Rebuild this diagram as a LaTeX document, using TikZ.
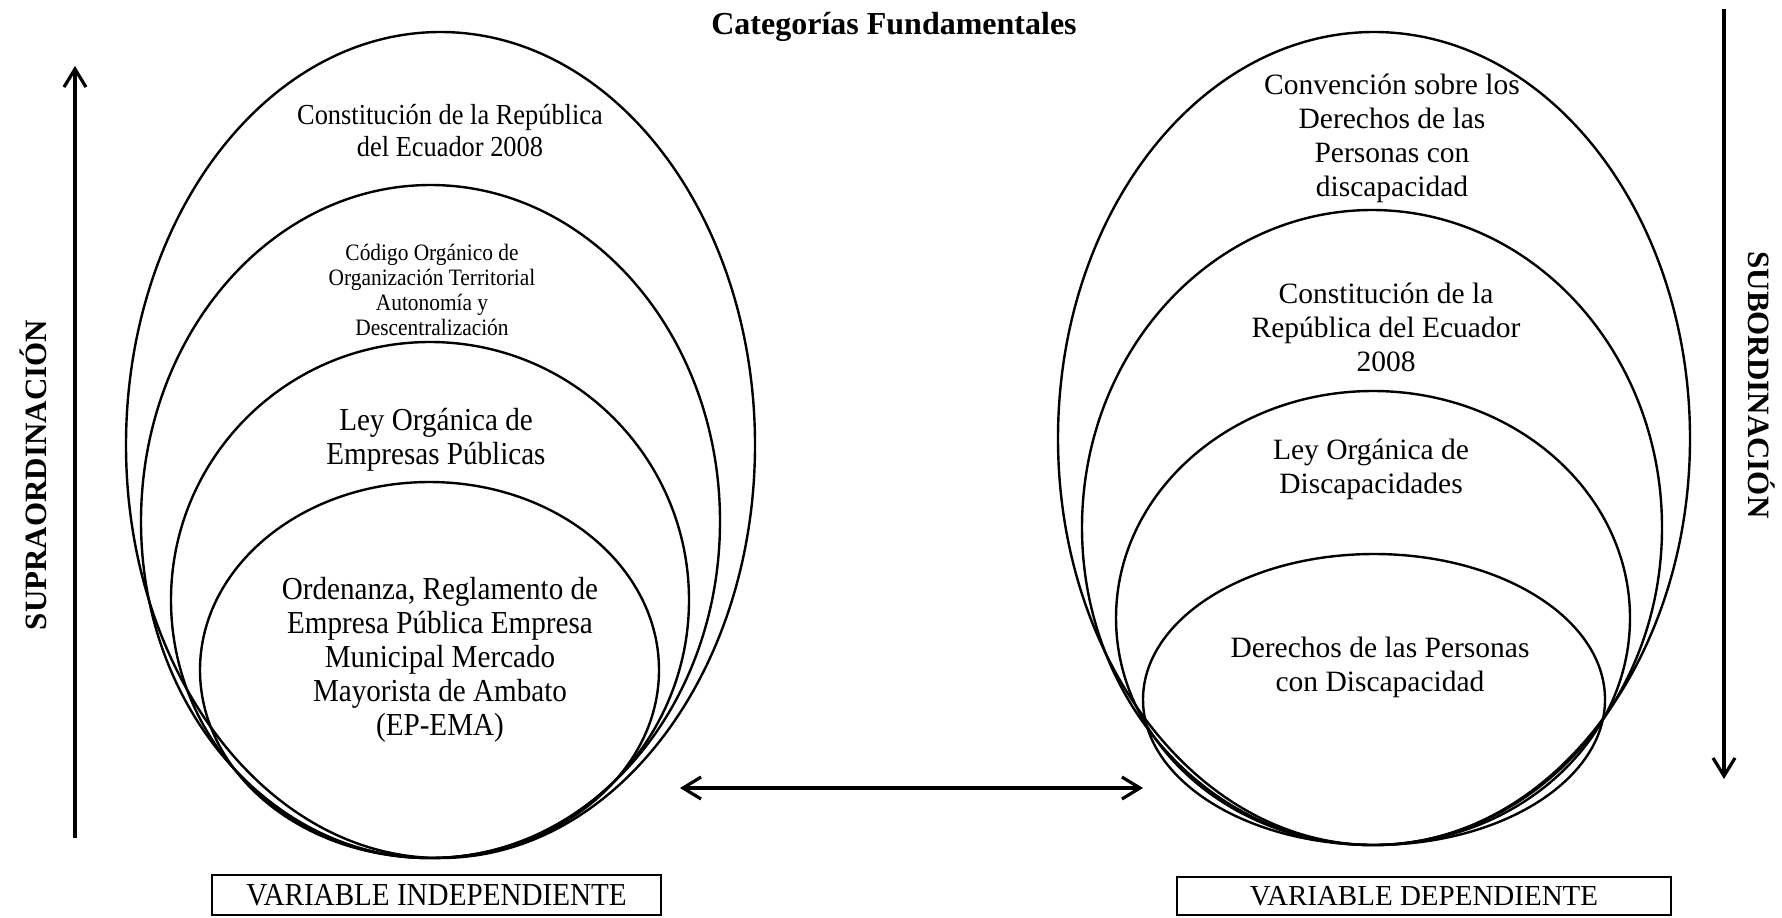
\documentclass[tikz,border=0pt]{standalone}
\usepackage{fontspec}
\setmainfont{Liberation Serif}
\newfontfamily\condfont[FakeStretch=0.91]{Liberation Serif}
\usepackage{tikz}
\usetikzlibrary{arrows.meta}

\tikzset{
  elipse/.style={line width=1.2pt},
  flecha/.style={line width=1.6pt},
  texto/.style={inner sep=0.75pt, align=center},
  caja/.style={draw, line width=0.6pt, inner sep=0pt},
}

\begin{document}
\begin{tikzpicture}[x=0.5pt,y=0.5pt,yscale=-1,xscale=1,>={Straight Barb[length=9pt,width=11pt]}]
%set diagram left start at 0, and has height of 917
\useasboundingbox (0,0) rectangle (1782,917);

%Shape: Ellipse [id:variable independiente]
\draw [elipse] (440.5,445) ellipse (314.5 and 413);
%Shape: Ellipse
\draw [elipse] (430.5,521.5) ellipse (289.5 and 336.5);
%Shape: Ellipse
\draw [elipse] (430,600) ellipse (259 and 258);
%Shape: Ellipse
\draw [elipse] (429.5,670) ellipse (229.5 and 188);

%Shape: Ellipse [id:variable dependiente]
\draw [elipse] (1374,438.5) ellipse (316 and 406.5);
%Shape: Ellipse
\draw [elipse] (1372,527.5) ellipse (290 and 317.5);
%Shape: Ellipse
\draw [elipse] (1373,618) ellipse (257 and 227);
%Shape: Ellipse
\draw [elipse] (1374,699.5) ellipse (231 and 145.5);

% Text Node
\draw (894,27) node (titulo) [texto, font=\bfseries\fontsize{16}{19}\selectfont] {Categorías Fundamentales};
% Text Node
\draw (33,475) node (supra) [texto, rotate=90, font=\bfseries\fontsize{15.5}{18}\selectfont] {SUPRAORDINACIÓN};
% Text Node
\draw (1762,385) node (subor) [texto, rotate=-90, font=\bfseries\fontsize{15.5}{18}\selectfont] {SUBORDINACIÓN};

% Text Node
\draw (450,131) node (constIzq) [texto, font=\condfont\fontsize{14.5}{16}\selectfont] {Constitución de la República\\del Ecuador 2008};
% Text Node
\draw (432,290) node (codigo) [texto, font=\condfont\fontsize{11.75}{12.5}\selectfont] {Código Orgánico de\\Organización Territorial\\Autonomía y\\Descentralización};
% Text Node
\draw (436,440) node (leyEmp) [texto, font=\condfont\fontsize{16}{17}\selectfont] {Ley Orgánica de\\Empresas Públicas};
% Text Node
\draw (440,660) node (ordenanza) [texto, font=\condfont\fontsize{16}{17}\selectfont] {Ordenanza, Reglamento de\\Empresa Pública Empresa\\Municipal Mercado\\Mayorista de Ambato\\(EP-EMA)};

% Text Node
\draw (1392,138) node (convencion) [texto, font=\fontsize{14.75}{17}\selectfont] {Convención sobre los\\Derechos de las\\Personas con\\discapacidad};
% Text Node
\draw (1386,327) node (constDer) [texto, font=\fontsize{14.75}{17}\selectfont] {Constitución de la\\República del Ecuador\\2008};
% Text Node
\draw (1371,469) node (leyDisc) [texto, font=\fontsize{14.75}{17}\selectfont] {Ley Orgánica de\\Discapacidades};
% Text Node
\draw (1380,667) node (derechos) [texto, font=\fontsize{14.75}{17}\selectfont] {Derechos de las Personas\\con Discapacidad};

% Text Node
\draw (436.5,895) node (varInd) [caja, minimum width=224.5pt, minimum height=20pt, font=\condfont\fontsize{16}{19}\selectfont] {VARIABLE INDEPENDIENTE};
% Text Node
\draw (1424,896) node (varDep) [caja, minimum width=247pt, minimum height=19pt, font=\fontsize{14.5}{17}\selectfont] {VARIABLE DEPENDIENTE};

%Straight Lines
\coordinate (supraIni) at (75,838);
\coordinate (supraFin) at (75,66);
\draw [flecha, ->] (supraIni) -- (supraFin);
\coordinate (suborIni) at (1724,9);
\coordinate (suborFin) at (1724,779);
\draw [flecha, ->] (suborIni) -- (suborFin);
\coordinate (relIzq) at (680,788);
\coordinate (relDer) at (1143,788);
\draw [flecha, <->] (relIzq) -- (relDer);
\end{tikzpicture}
\end{document}
